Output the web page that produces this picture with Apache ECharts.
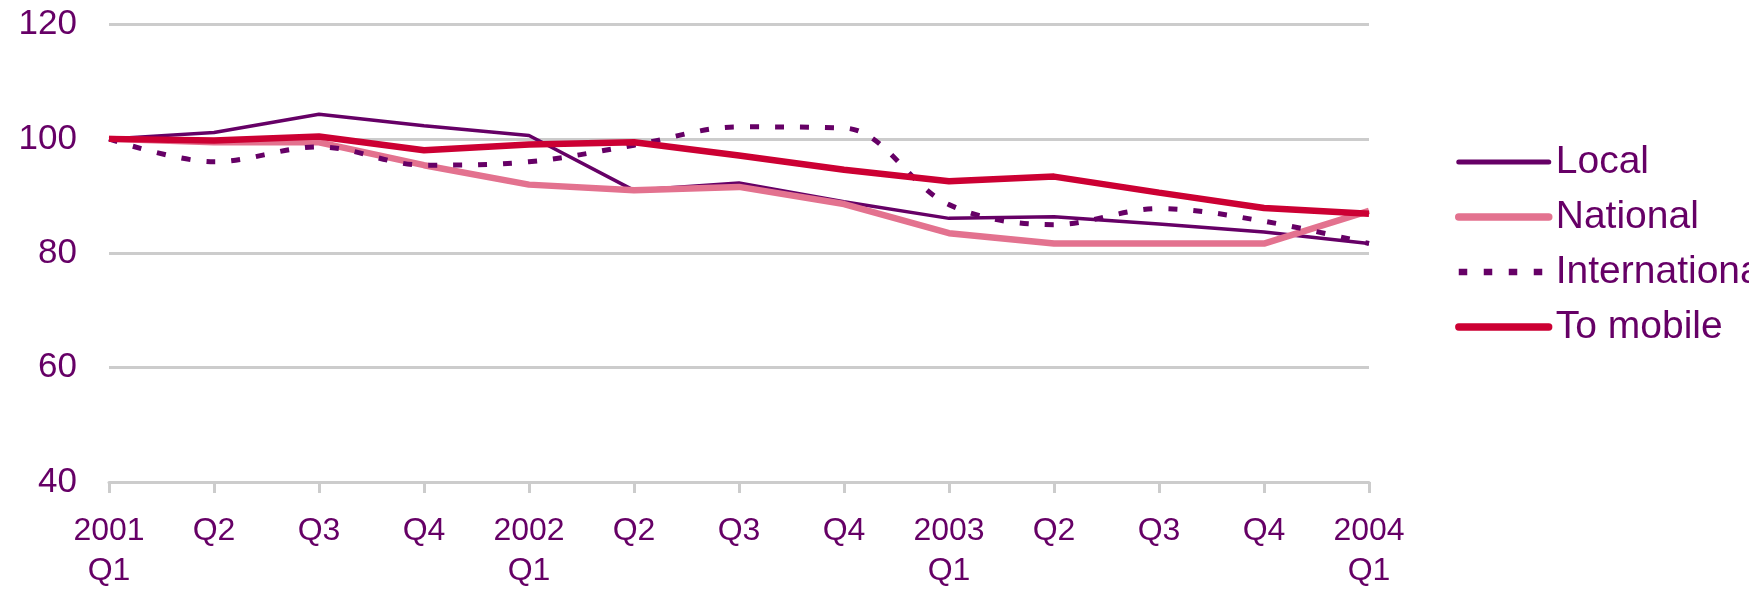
<!DOCTYPE html>
<html>
<head>
<meta charset="utf-8">
<script src="https://cdn.jsdelivr.net/npm/echarts@6/dist/echarts.min.js"></script>
<style>
  html, body { margin: 0; padding: 0; background: #fff; }
  #chart { width: 1749px; height: 591px; }
</style>
</head>
<body>
<div id="chart"></div>
<script>
// x轴季度标签
const quarters = ['2001\nQ1', 'Q2', 'Q3', 'Q4', '2002\nQ1', 'Q2', 'Q3', 'Q4',
                  '2003\nQ1', 'Q2', 'Q3', 'Q4', '2004\nQ1'];

// 各类通话价格指数 (2001 Q1 = 100)
const local         = [100, 101.1, 104.3, 102.3, 100.6, 91.0, 92.3, 89.0, 86.1, 86.4, 85.1, 83.7, 81.7];
const national      = [100, 99.4, 99.4, 95.4, 92.0, 91.0, 91.6, 88.6, 83.5, 81.7, 81.7, 81.7, 87.4];
const international = [100, 96.0, 98.6, 95.4, 96.0, 98.9, 102.1, 101.9, 88.5, 85.0, 87.8, 85.6, 81.7];
const toMobile      = [100, 99.7, 100.4, 98.0, 99.0, 99.4, 97.1, 94.6, 92.6, 93.4, 90.6, 87.9, 86.9];

const yTicks = { min: 40, max: 120, interval: 20 };

const TEXT = '#660066';
const GRID = '#cccccc';
const FONT = "'Liberation Sans', Arial, sans-serif";

const C_LOCAL = '#660066';
const C_NATIONAL = '#e3728f';
const C_INTL = '#660066';
const C_MOBILE = '#cc0033';

const chart = echarts.init(document.getElementById('chart'));

const option = {
    animation: false,
    backgroundColor: '#fff',
    grid: { left: 109, right: 380, top: 24.5, bottom: 104, containLabel: false },
    legend: {
        orient: 'vertical',
        left: 1455,
        top: 142,
        padding: 0,
        itemWidth: 90,
        itemHeight: 2,
        itemGap: 15,
        itemStyle: { opacity: 0 },
        textStyle: { color: TEXT, fontSize: 39, fontFamily: FONT, lineHeight: 40, padding: [0, 0, 0, 2] },
        data: [
            { name: 'Local', lineStyle: { color: C_LOCAL, width: 5, cap: 'round' } },
            { name: 'National', lineStyle: { color: C_NATIONAL, width: 7.5, cap: 'round' } },
            { name: 'International', lineStyle: { color: C_INTL, width: 6.5, type: [8.5, 16.5], cap: 'butt' } },
            { name: 'To mobile', lineStyle: { color: C_MOBILE, width: 7.3, cap: 'round' } }
        ]
    },
    xAxis: {
        type: 'category',
        data: quarters,
        boundaryGap: false,
        axisLine: { lineStyle: { color: GRID, width: 3 } },
        axisTick: { show: true, length: 11, lineStyle: { color: GRID, width: 3 } },
        axisLabel: { color: TEXT, fontSize: 32, fontFamily: FONT, lineHeight: 40, margin: 29, interval: 0 },
        splitLine: { show: false }
    },
    yAxis: {
        type: 'value',
        min: yTicks.min,
        max: yTicks.max,
        interval: yTicks.interval,
        axisLine: { show: false },
        axisTick: { show: false },
        axisLabel: { color: TEXT, fontSize: 35, fontFamily: FONT, margin: 32 },
        splitLine: { lineStyle: { color: GRID, width: 3 } }
    },
    series: [
        {
            name: 'Local', type: 'line', data: local, symbol: 'none',
            itemStyle: { color: C_LOCAL },
            lineStyle: { color: C_LOCAL, width: 3.5 }
        },
        {
            name: 'National', type: 'line', data: national, symbol: 'none',
            itemStyle: { color: C_NATIONAL },
            lineStyle: { color: C_NATIONAL, width: 6.5 }
        },
        {
            name: 'International', type: 'line', data: international, symbol: 'none',
            smooth: 0.35,
            itemStyle: { color: C_INTL },
            lineStyle: { color: C_INTL, width: 5, type: [9, 16], cap: 'butt' }
        },
        {
            name: 'To mobile', type: 'line', data: toMobile, symbol: 'none',
            itemStyle: { color: C_MOBILE },
            lineStyle: { color: C_MOBILE, width: 6.5 }
        }
    ]
};

chart.setOption(option);
</script>
</body>
</html>
